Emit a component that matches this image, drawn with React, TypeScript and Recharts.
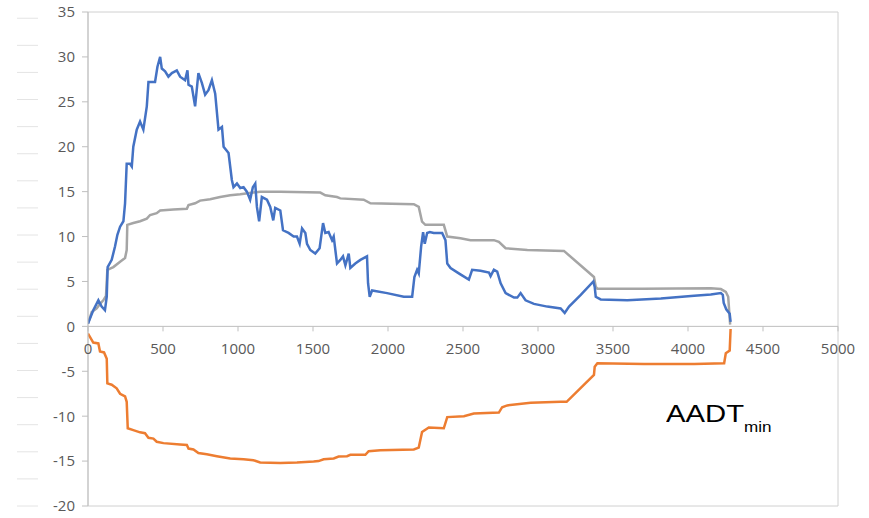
import { LineChart, Line, XAxis, YAxis, ReferenceArea, ReferenceLine, ReferenceDot } from "recharts";

type Pt = { x: number; y: number };
const toPts = (rows: number[][]): Pt[] => rows.map(([x, y]) => ({ x, y }));

// values: [distance, value]
const blueRows = [
  [0, 0.3], [35, 1.8], [69, 2.9], [91, 2.2], [113, 1.8], [125, 3.3], [131, 6.6], [158, 7.4], [180, 8.9],
  [196, 10.2], [214, 11.1], [236, 11.7], [247, 13.7], [258, 18.1], [280, 18.1], [292, 17.8], [302, 20],
  [325, 21.9], [347, 22.8], [369, 21.9], [392, 24.5], [403, 27.2], [447, 27.2], [463, 28.9], [481, 30.0],
  [492, 28.7], [514, 28.4], [536, 27.8], [559, 28.2], [592, 28.5], [614, 27.8], [647, 27.4], [663, 28.5],
  [670, 26.9], [692, 26.7], [714, 24.5], [736, 28.2], [759, 27.1], [781, 25.8], [803, 26.3], [826, 27.4],
  [848, 25.9], [870, 21.9], [893, 22.2], [904, 20], [937, 19.3], [959, 16.3], [970, 15.5], [993, 15.9],
  [1015, 15.4], [1037, 15.5], [1059, 15.0], [1081, 14.1], [1099, 15.5], [1115, 15.9], [1126, 13.3],
  [1141, 11.7], [1159, 14.4], [1193, 14.1], [1215, 13.3], [1235, 11.8], [1248, 13.2], [1282, 12.9],
  [1300, 10.7], [1337, 10.4], [1371, 10.0], [1393, 10.0], [1411, 9.2], [1427, 10.9], [1449, 10.4],
  [1460, 9.2], [1482, 8.5], [1515, 8.1], [1544, 8.7], [1567, 11.5], [1582, 10.4], [1604, 10.5],
  [1627, 9.6], [1638, 10.0], [1660, 7.0], [1682, 7.4], [1700, 7.8], [1716, 6.8], [1738, 8.1], [1749, 6.5],
  [1782, 7.0], [1816, 7.4], [1860, 7.8], [1867, 4.8], [1878, 3.3], [1894, 4.0], [1994, 3.7], [2105, 3.3],
  [2161, 3.3], [2176, 5.5], [2194, 6.3], [2205, 5.9], [2221, 8.9], [2234, 10.5], [2245, 9.2], [2261, 10.4],
  [2279, 10.5], [2305, 10.4], [2361, 10.4], [2383, 9.6], [2395, 7.0], [2417, 6.5], [2472, 5.9],
  [2539, 5.2], [2561, 6.3], [2617, 6.2], [2673, 6.0], [2684, 5.6], [2706, 6.3], [2728, 6.1], [2751, 4.8],
  [2784, 3.7], [2840, 3.2], [2862, 3.2], [2884, 3.7], [2917, 2.9], [2973, 2.5], [3062, 2.2], [3151, 2.0],
  [3178, 1.5], [3207, 2.2], [3285, 3.5], [3369, 5.0], [3378, 4.4], [3385, 3.3], [3418, 3.0], [3596, 2.9],
  [3819, 3.1], [4041, 3.4], [4152, 3.55], [4219, 3.7], [4232, 3.5], [4238, 2.6], [4255, 1.9],
  [4278, 1.4], [4284, 0.5],
];

const grayRows = [
  [0, 0.3], [25, 1.6], [58, 2.0], [80, 2.5], [102, 2.9], [120, 3.4], [129, 6.3], [169, 6.6], [214, 7.2],
  [247, 7.6], [258, 8.5], [262, 11.3], [302, 11.5], [347, 11.7], [392, 12.0], [414, 12.4], [458, 12.6],
  [481, 12.9], [569, 13.0], [659, 13.1], [670, 13.5], [714, 13.7], [747, 14.0], [814, 14.15], [881, 14.4],
  [948, 14.6], [1015, 14.7], [1103, 14.9], [1148, 15.0], [1282, 15.0], [1549, 14.9], [1582, 14.6],
  [1660, 14.4], [1682, 14.25], [1838, 14.1], [1883, 13.7], [2172, 13.6], [2205, 13.3], [2227, 11.65],
  [2249, 11.3], [2372, 11.3], [2395, 10.0], [2483, 9.8], [2550, 9.6], [2706, 9.6], [2739, 9.4],
  [2784, 8.7], [2929, 8.5], [3173, 8.4], [3373, 5.5], [3385, 4.4], [3396, 4.2], [3700, 4.2], [4152, 4.25],
  [4219, 4.15], [4252, 3.85], [4268, 3.3], [4281, 0.2],
];

const orangeRows = [
  [0, -0.8], [35, -1.8], [69, -1.9], [80, -2.8], [107, -2.9], [125, -3.6], [129, -6.35], [158, -6.5],
  [191, -6.9], [214, -7.5], [247, -7.8], [258, -8.4], [265, -11.35], [302, -11.55], [347, -11.8],
  [380, -11.9], [403, -12.4], [436, -12.5], [458, -12.85], [503, -13.0], [614, -13.15], [659, -13.2],
  [670, -13.6], [703, -13.7], [736, -14.1], [792, -14.25], [859, -14.45], [948, -14.7], [1037, -14.8],
  [1103, -14.9], [1148, -15.15], [1282, -15.2], [1393, -15.15], [1504, -15.05], [1537, -15.0],
  [1571, -14.8], [1638, -14.7], [1671, -14.5], [1727, -14.45], [1749, -14.3], [1849, -14.3],
  [1871, -13.9], [1949, -13.8], [2172, -13.7], [2205, -13.5], [2227, -11.75], [2272, -11.25],
  [2372, -11.35], [2395, -10.1], [2506, -10.0], [2572, -9.7], [2739, -9.6], [2761, -9.0], [2795, -8.8],
  [2951, -8.5], [3151, -8.4], [3191, -8.4], [3373, -5.4], [3378, -4.5], [3396, -4.1], [3707, -4.2],
  [4041, -4.2], [4241, -4.1], [4252, -3.0], [4278, -2.7], [4284, -0.3],
];

const blue = toPts(blueRows);
const gray = toPts(grayRows);
const orange = toPts(orangeRows);

const xTicks = [0, 500, 1000, 1500, 2000, 2500, 3000, 3500, 4000, 4500, 5000];
const yTicks = [-20, -15, -10, -5, 0, 5, 10, 15, 20, 25, 30, 35];
// faint dashes down the far left edge
const sideDashes = [0, 1, 2, 3, 4, 5, 6, 7, 8, 9, 10, 11, 12, 13, 14, 15, 16, 17, 18];

const AXIS = "#BFBFBF";
const TEXT = "#595959";
const FONT = "'Open Sans', sans-serif";

function xTick(label: number) {
  return (p: any) => (
    <g>
      <line x1={p.cx} y1={p.cy} x2={p.cx} y2={p.cy + 5} stroke={AXIS} />
      <text x={p.cx} y={p.cy + 28} textAnchor="middle" fill={TEXT} fontSize={15} fontFamily={FONT}>
        {label}
      </text>
    </g>
  );
}

export default function App() {
  return (
    <div style={{ position: "absolute", left: 0, top: 0, width: 869, height: 518, background: "#fff" }}>
      <LineChart width={869} height={518} margin={{ top: 12, right: 31, bottom: 12, left: 8 }}>
        <XAxis type="number" dataKey="x" domain={[0, 5000]} hide allowDataOverflow />
        <YAxis
          yAxisId="main"
          type="number"
          domain={[-20, 35]}
          ticks={yTicks}
          interval={0}
          width={50}
          allowDataOverflow
          axisLine={{ stroke: AXIS }}
          tickLine={{ stroke: AXIS }}
          tickSize={6}
          tickMargin={7}
          tick={{ fill: TEXT, fontSize: 15, fontFamily: FONT }}
        />
        <YAxis
          yAxisId="side"
          type="number"
          domain={[0, 18.23]}
          ticks={sideDashes}
          interval={0}
          width={30}
          allowDataOverflow
          axisLine={false}
          tickLine={{ stroke: "#E4E4E4" }}
          tickSize={21}
          tickFormatter={() => ""}
        />
        <ReferenceArea yAxisId="main" x1={0} x2={5000} y1={-20} y2={35} fill="none" stroke="#D0D0D0" />
        <ReferenceLine yAxisId="main" y={0} stroke={AXIS} />
        {xTicks.map((t) => (
          <ReferenceDot key={t} yAxisId="main" x={t} y={0} r={0} shape={xTick(t)} />
        ))}
        <Line yAxisId="main" data={gray} dataKey="y" type="linear" stroke="#A5A5A5" strokeWidth={2.5} dot={false} isAnimationActive={false} />
        <Line yAxisId="main" data={blue} dataKey="y" type="linear" stroke="#4472C4" strokeWidth={2.5} dot={false} isAnimationActive={false} />
        <Line yAxisId="main" data={orange} dataKey="y" type="linear" stroke="#ED7D31" strokeWidth={2.5} dot={false} isAnimationActive={false} />
      </LineChart>
      <div
        style={{
          position: "absolute",
          left: 666,
          top: 402,
          fontFamily: "'Liberation Sans', Arial, sans-serif",
          fontSize: 24,
          lineHeight: 1,
          color: "#000",
          whiteSpace: "nowrap",
          transform: "scaleX(1.22)",
          transformOrigin: "left top",
        }}
      >
        AADT<span style={{ fontSize: 14, position: "relative", top: 10 }}>min</span>
      </div>
    </div>
  );
}
